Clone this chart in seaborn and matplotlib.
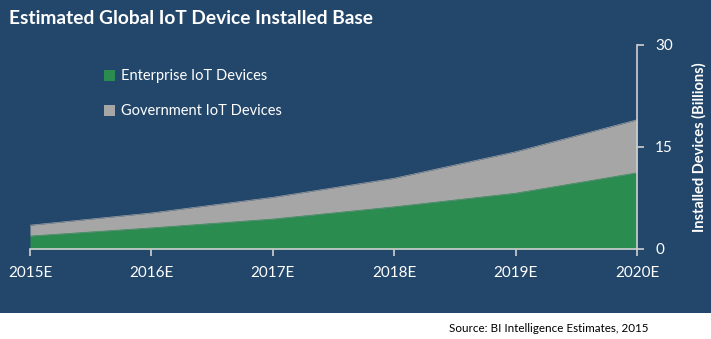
import matplotlib
matplotlib.use("Agg")
import matplotlib.pyplot as plt
import seaborn as sns
import pandas as pd
from matplotlib.patches import Rectangle

years = ["2015E", "2016E", "2017E", "2018E", "2019E", "2020E"]
enterprise = [1.9, 3.1, 4.4, 6.2, 8.2, 11.2]
government = [1.6, 2.2, 3.2, 4.2, 6.1, 7.8]
y_ticks = [0, 15, 30]

BLUE = "#23476b"
GREEN = "#2b8c4f"
GREY = "#a6a6a6"
AXC = "#d0d0d0"

sns.set_theme(style="white")
plt.rcParams['font.family'] = ['Lato', 'DejaVu Sans']

df = pd.DataFrame({"year": years, "pos": range(len(years)),
                   "enterprise": enterprise, "government": government})
df["total"] = df["enterprise"] + df["government"]

fig = plt.figure(figsize=(7.11, 3.39), dpi=100)
fig.patch.set_facecolor("white")
fig.add_artist(Rectangle((0, 26/339), 1, 1 - 26/339, transform=fig.transFigure,
                         facecolor=BLUE, edgecolor="none", zorder=0))

ax = fig.add_axes([30/711, 1-249/339, (637-30)/711, (249-45)/339])
ax.set_facecolor("none")

ax.stackplot(df["pos"], df["enterprise"], df["government"],
             colors=[GREEN, GREY], labels=["Enterprise IoT Devices", "Government IoT Devices"],
             linewidth=0)
sns.lineplot(data=df, x="pos", y="total", ax=ax, color=GREY, linewidth=0.5)
sns.lineplot(data=df, x="pos", y="enterprise", ax=ax, color=GREEN, linewidth=0.5)

ax.set_xlim(0, len(years)-1)
ax.set_ylim(0, 30)
ax.set_xticks(range(len(years)))
ax.set_xticklabels(years)
ax.set_yticks(y_ticks)
ax.yaxis.tick_right()
ax.yaxis.set_label_position("right")
for s in ["top", "left"]:
    ax.spines[s].set_visible(False)
for s in ["bottom", "right"]:
    ax.spines[s].set_color(AXC)
    ax.spines[s].set_linewidth(1.2)
ax.tick_params(axis="x", colors=AXC, length=5, width=1.2, direction="out",
               labelcolor="white", labelsize=11, pad=7, bottom=True)
ax.tick_params(axis="y", colors=AXC, length=5, width=1.2, direction="out",
               labelcolor="white", labelsize=11, pad=8, right=True, left=False)
ax.set_xlabel("")
ax.set_ylabel("Installed Devices (Billions)", color="white", fontsize=10.5,
              fontweight="bold", labelpad=14)

leg = ax.legend(loc="upper left", bbox_to_anchor=(0.1, 0.945), frameon=False,
                fontsize=10.5, labelcolor="white", handlelength=0.8, handleheight=0.8,
                handletextpad=0.4, labelspacing=1.45)

fig.text(9/711, 1-18/339, "Estimated Global IoT Device Installed Base",
         color="white", fontsize=13.8, fontweight="bold", va="center", ha="left")
fig.text(549/711, 1-329/339, "Source: BI Intelligence Estimates, 2015",
         color="black", fontsize=8.4, va="center", ha="center")

fig.savefig("out.png", dpi=100, facecolor=fig.get_facecolor())
